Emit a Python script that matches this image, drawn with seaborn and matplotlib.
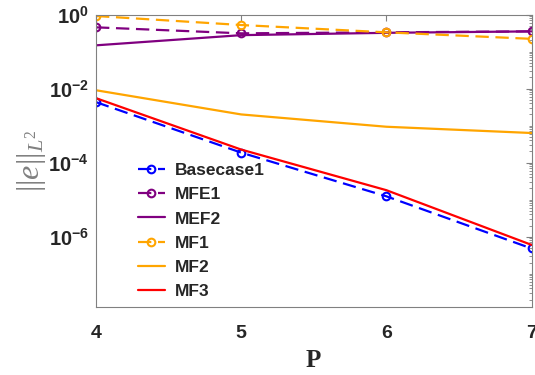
import numpy as np
import pandas as pd
import matplotlib
matplotlib.use("Agg")
import matplotlib.pyplot as plt
import matplotlib.ticker as mticker
import seaborn as sns

# ---- data ----
P = [4, 5, 6, 7]
basecase1 = [4.3e-3, 1.86e-4, 1.23e-5, 4.8e-7]
mfe1 = [0.45, 0.31, 0.33, 0.35]
mef2 = [0.147, 0.277, 0.32, 0.35]
mf1 = [0.91, 0.52, 0.33, 0.22]
mf2 = [9.0e-3, 2.0e-3, 9.3e-4, 6.3e-4]
mf3 = [5.5e-3, 2.25e-4, 1.8e-5, 6.0e-7]
labels = ["Basecase1", "MFE1", "MEF2", "MF1", "MF2", "MF3"]
yticks = [1e-6, 1e-4, 1e-2, 1e0]
ytick_labels = [r"$\mathbf{10^{-6}}$", r"$\mathbf{10^{-4}}$", r"$\mathbf{10^{-2}}$", r"$\mathbf{10^{0}}$"]
xticks = [4, 5, 6, 7]

sns.set_style("white")
plt.rcParams["font.family"] = ["Liberation Sans", "DejaVu Sans"]
plt.rcParams["mathtext.fontset"] = "custom"
plt.rcParams["mathtext.bf"] = "Liberation Sans:bold"
plt.rcParams["mathtext.it"] = "Liberation Serif:italic"
plt.rcParams["mathtext.rm"] = "Liberation Serif"

fig = plt.figure(figsize=(5.35, 3.75), dpi=100)
ax = fig.add_axes([96 / 535, (375 - 307) / 375, (531.5 - 96) / 535, (307 - 14.5) / 375])

blue = "#0000FF"
purple = "#800080"
orange = "#FFA500"
red = "#FF0000"

series = [
    (basecase1, blue, True),
    (mfe1, purple, True),
    (mef2, purple, False),
    (mf1, orange, True),
    (mf2, orange, False),
    (mf3, red, False),
]

for (vals, col, dashed), lab in zip(series, labels):
    kw = dict(color=col, linewidth=1.6, label=lab)
    if dashed:
        kw.update(marker="o", markersize=5.5, markerfacecolor="none",
                  markeredgecolor=col, markeredgewidth=1.5)
    sns.lineplot(x=P, y=vals, ax=ax, **kw)
    if dashed:
        ax.lines[-1].set_dashes((6, 3))

ax.set_yscale("log")
ax.set_xlim(4, 7)
ax.set_ylim(10 ** -7.9, 10 ** 0.0)
ax.set_yticks(yticks)
ax.set_yticklabels(ytick_labels)
ax.yaxis.set_minor_locator(mticker.LogLocator(base=10, subs=np.arange(1, 10), numticks=20))
ax.yaxis.set_minor_formatter(mticker.NullFormatter())
ax.set_xticks(xticks)
ax.set_xticklabels([str(v) for v in xticks], fontweight="bold", fontsize=14)

for s in ax.spines.values():
    s.set_color("#808080")
    s.set_linewidth(0.8)
ax.tick_params(axis="both", which="both", direction="in", top=True, right=True,
               color="#808080", labelcolor="#262626")
ax.tick_params(axis="y", which="major", length=4, labelsize=14.5, pad=5)
ax.tick_params(axis="y", which="minor", length=2)
ax.tick_params(axis="x", which="major", length=4, pad=13)

ax.set_xlabel("P", fontfamily="Liberation Serif", fontweight="bold", fontsize=18,
              color="#262626", labelpad=5)
ax.set_ylabel(r"$||e||_{L^2}$", fontsize=23, color="#808080", labelpad=0)

leg = ax.legend(loc="upper left", bbox_to_anchor=((138 - 96) / 435.5, (307 - 163) / 292.5),
                frameon=False, handlelength=1.55, handletextpad=0.6,
                labelspacing=0.52, borderaxespad=0, borderpad=0,
                prop={"weight": "bold", "size": 12.5})

fig.savefig("out.png", dpi=100)
